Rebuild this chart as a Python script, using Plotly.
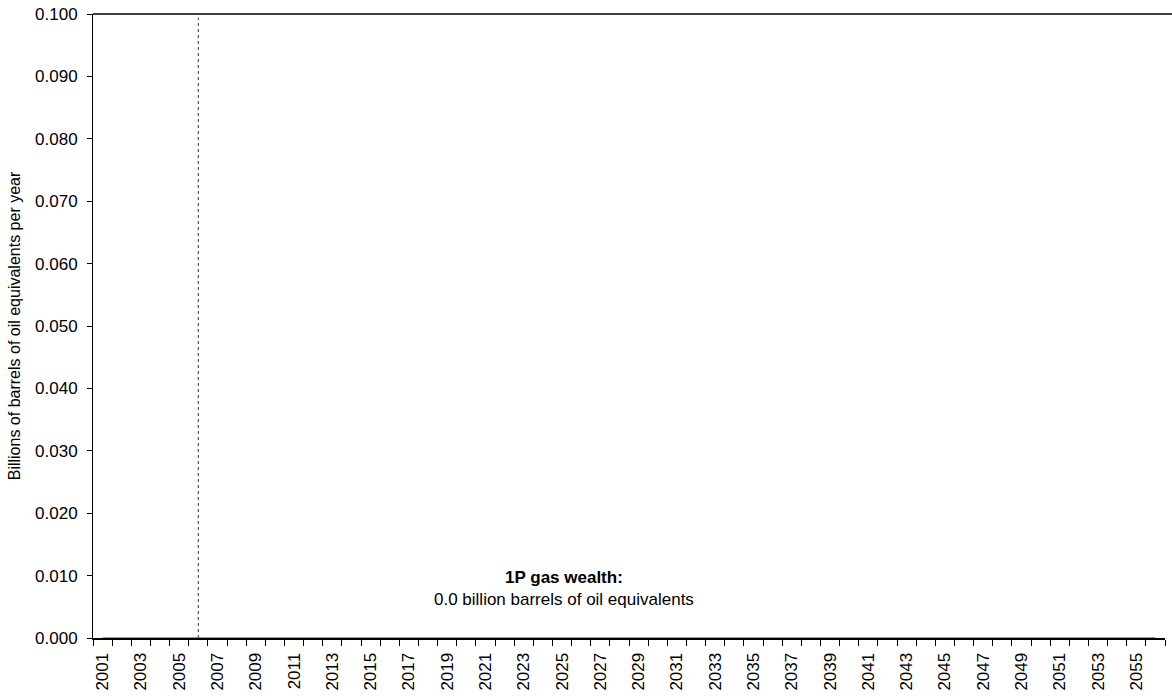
import plotly.graph_objects as go

years = list(range(2001, 2057))
gas_1p = [0.0] * len(years)
label_years = list(range(2001, 2056, 2))
marker_year = 2006
y_ticks = [round(i * 0.01, 2) for i in range(11)]
wealth_total = 0.0

FONT = "Liberation Sans, Arial, sans-serif"

fig = go.Figure()
fig.add_trace(go.Scatter(
    x=years, y=gas_1p, mode="lines",
    line=dict(color="#8B1A1A", width=1.2),
    showlegend=False, hoverinfo="skip",
))

fig.add_shape(type="line", xref="x", yref="y",
              x0=marker_year, x1=marker_year, y0=0, y1=0.0994,
              line=dict(color="#303030", width=1, dash="3px,3px"))
fig.add_shape(type="line", xref="paper", yref="paper",
              x0=0, x1=1.0066, y0=1, y1=1,
              line=dict(color="#404040", width=2))

fig.add_annotation(
    xref="paper", yref="y", x=0.4394, y=0.0079,
    text=f"<b>1P gas wealth:</b><br>{wealth_total:.1f} billion barrels of oil equivalents",
    showarrow=False, align="center", xanchor="center", yanchor="middle",
    font=dict(family=FONT, size=17, color="black"),
)

fig.update_layout(
    width=1172, height=696,
    margin=dict(l=93, r=7, t=14, b=58, autoexpand=False),
    plot_bgcolor="white", paper_bgcolor="white",
    font=dict(family=FONT, color="black"),
)
fig.update_xaxes(
    automargin=False,
    range=[2000.5, 2056.5],
    tickmode="array", tickvals=label_years, ticktext=[str(y) for y in label_years],
    ticks="", tickangle=-90, ticklabelstandoff=6,
    tickfont=dict(family=FONT, size=17, color="black"),
    minor=dict(ticks="outside", dtick=1, tick0=2000.5, ticklen=6,
               tickcolor="black", tickwidth=1, showgrid=False),
    showline=True, linecolor="black", linewidth=2,
    showgrid=False, zeroline=False,
)
fig.update_yaxes(
    automargin=False,
    range=[0, 0.1], tickmode="array", tickvals=y_ticks,
    ticktext=[f"{v:.3f}" for v in y_ticks],
    ticks="outside", ticklen=5, tickcolor="black",
    ticklabelstandoff=6, ticklabeloverflow="allow",
    tickfont=dict(family=FONT, size=17, color="black"),
    showline=True, linecolor="black", linewidth=1,
    showgrid=False, zeroline=False,
    title=dict(text="Billions of barrels of oil equivalents per year",
               font=dict(family=FONT, size=16, color="black"), standoff=10),
)

fig.write_html("out.html",
               config={"displayModeBar": False},
               post_script="document.body.style.margin='0';document.body.style.overflow='hidden';")
